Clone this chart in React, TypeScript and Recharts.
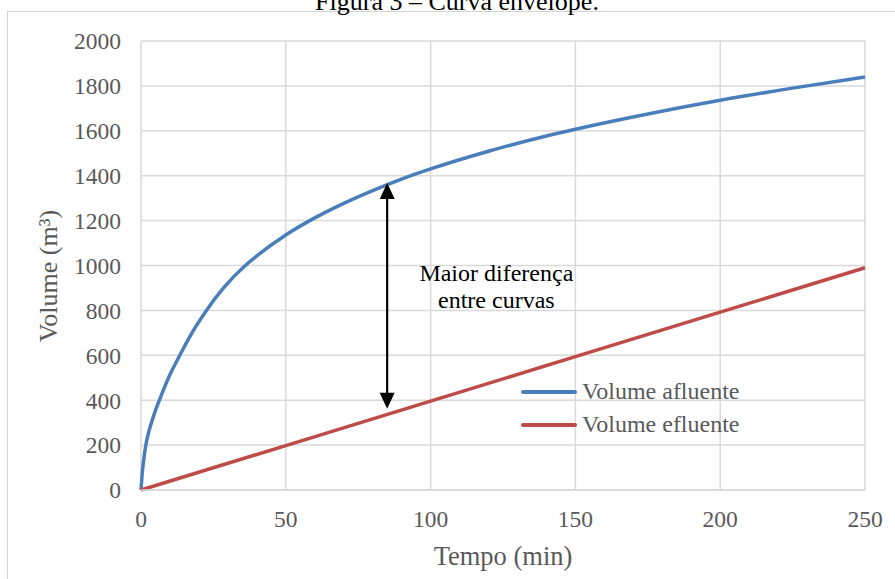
import { CartesianGrid, Legend, Line, LineChart, ReferenceDot, ReferenceLine, XAxis, YAxis } from "recharts";

const FONT = '"Liberation Serif", "Times New Roman", serif';

const titulo = "Figura 3 – Curva envelope.";

// curva de volume afluente
const afluenteTempo = [0, 0.5, 1, 1.6, 2.5, 3.6, 5, 6.5, 9.5, 13.4, 17.6, 22.6, 28.5, 36, 40, 50, 60, 70, 80, 90, 100, 120, 140, 150, 175, 200, 225, 250];
const afluenteVolume = [0, 85, 140, 195, 250, 300, 355, 405, 500, 600, 700, 800, 900, 1000, 1043, 1136, 1212, 1277, 1334, 1385, 1430, 1509, 1577, 1607, 1675, 1736, 1790, 1840];

// volume efluente, reta
const efluenteTempo = [0, 50, 100, 150, 200, 250];
const efluenteVolume = [0, 198, 396, 594, 792, 990];

const xTicks = [0, 50, 100, 150, 200, 250];
const yTicks = [0, 200, 400, 600, 800, 1000, 1200, 1400, 1600, 1800, 2000];

// seta da maior diferença
const setaTempo = 85;
const setaDe = 362;
const setaAte = 1368;

const notaTempo = 122.7;
const notaVolume = 871;
const notaLinhas = ["Maior diferença", "entre curvas"];

const afluente = afluenteTempo.map((t, i) => ({ t, v: afluenteVolume[i] }));
const efluente = efluenteTempo.map((t, i) => ({ t, v: efluenteVolume[i] }));

function SetaDupla(props: any) {
  const { x1, y1, y2 } = props;
  const top = Math.min(y1, y2);
  const bottom = Math.max(y1, y2);
  const head = 16;
  const half = 7.5;
  return (
    <g>
      <line x1={x1} x2={x1} y1={top + head - 1} y2={bottom - head + 1} stroke="#000" strokeWidth={2.2} />
      <polygon points={`${x1},${top} ${x1 - half},${top + head} ${x1 + half},${top + head}`} fill="#000" />
      <polygon points={`${x1},${bottom} ${x1 - half},${bottom - head} ${x1 + half},${bottom - head}`} fill="#000" />
    </g>
  );
}

function Nota(props: any) {
  const { cx, cy } = props;
  return (
    <text textAnchor="middle" fontFamily={FONT} fontSize={24} fill="#000">
      <tspan x={cx} y={cy - 13}>{notaLinhas[0]}</tspan>
      <tspan x={cx} y={cy + 13.3}>{notaLinhas[1]}</tspan>
    </text>
  );
}

export default function App() {
  return (
    <div style={{ position: "absolute", left: 0, top: 0, width: 895, height: 579, overflow: "hidden", background: "#fff" }}>
      <div style={{
        position: "absolute", left: 7, top: 11, width: 1000, height: 1000,
        border: "1px solid #d4d4d4",
      }} />
      <svg width={895} height={20} style={{ position: "absolute", left: 0, top: 0 }}>
        <text x={457} y={9.5} textAnchor="middle" fontFamily={FONT} fontSize={26} fill="#000">{titulo}</text>
      </svg>
      <div style={{ position: "absolute", left: 0, top: 0 }}>
        <LineChart width={895} height={579} margin={{ top: 41, right: 30, bottom: 0, left: 0 }}>
          <CartesianGrid stroke="#d9d9d9" strokeWidth={1.5} />
          <XAxis
            dataKey="t"
            type="number"
            domain={[0, 250]}
            ticks={xTicks}
            height={89}
            tickSize={0}
            tickMargin={20}
            axisLine={{ stroke: "#d9d9d9", strokeWidth: 1.5 }}
            tickLine={false}
            tick={{ fontSize: 23.5, fill: "#595959", fontFamily: FONT }}
            label={{
              content: (p: any) => (
                <text x={p.viewBox.x + p.viewBox.width / 2} y={p.viewBox.y + 75} textAnchor="middle"
                  fontFamily={FONT} fontSize={26.5} fill="#595959">Tempo (min)</text>
              ),
            }}
          />
          <YAxis
            type="number"
            domain={[0, 2000]}
            ticks={yTicks}
            width={141}
            tickSize={0}
            tickMargin={20}
            axisLine={false}
            tickLine={false}
            tick={{ fontSize: 23.5, fill: "#595959", fontFamily: FONT }}
            label={{
              content: (p: any) => {
                const x = p.viewBox.x + 56.5;
                const y = p.viewBox.y + p.viewBox.height / 2 + 10.5;
                return (
                  <text x={x} y={y} textAnchor="middle" transform={`rotate(-90, ${x}, ${y})`}
                    fontFamily={FONT} fontSize={26} fill="#595959">Volume (m³)</text>
                );
              },
            }}
          />
          <Line data={afluente} dataKey="v" name="Volume afluente" type="monotone" stroke="#4a7ebb"
            strokeWidth={3.5} dot={false} activeDot={false} isAnimationActive={false} />
          <Line data={efluente} dataKey="v" name="Volume efluente" type="linear" stroke="#be4b48"
            strokeWidth={3.5} dot={false} activeDot={false} isAnimationActive={false} />
          <ReferenceLine
            segment={[{ x: setaTempo, y: setaDe }, { x: setaTempo, y: setaAte }]}
            shape={SetaDupla}
            ifOverflow="visible"
          />
          <ReferenceDot x={notaTempo} y={notaVolume} r={0} shape={Nota} ifOverflow="visible" />
          <Legend
            layout="horizontal"
            verticalAlign="middle"
            align="center"
            wrapperStyle={{ left: 521, top: 375, width: 280 }}
            content={(p: any) => (
              <div>
                {(p.payload || []).map((item: any) => (
                  <div key={item.value} style={{ display: "flex", alignItems: "center", height: 33 }}>
                    <div style={{ width: 56, height: 4, background: item.color, marginRight: 5, borderRadius: 2 }} />
                    <span style={{ fontFamily: FONT, fontSize: 24, color: "#595959", lineHeight: "33px" }}>{item.value}</span>
                  </div>
                ))}
              </div>
            )}
          />
        </LineChart>
      </div>
    </div>
  );
}
